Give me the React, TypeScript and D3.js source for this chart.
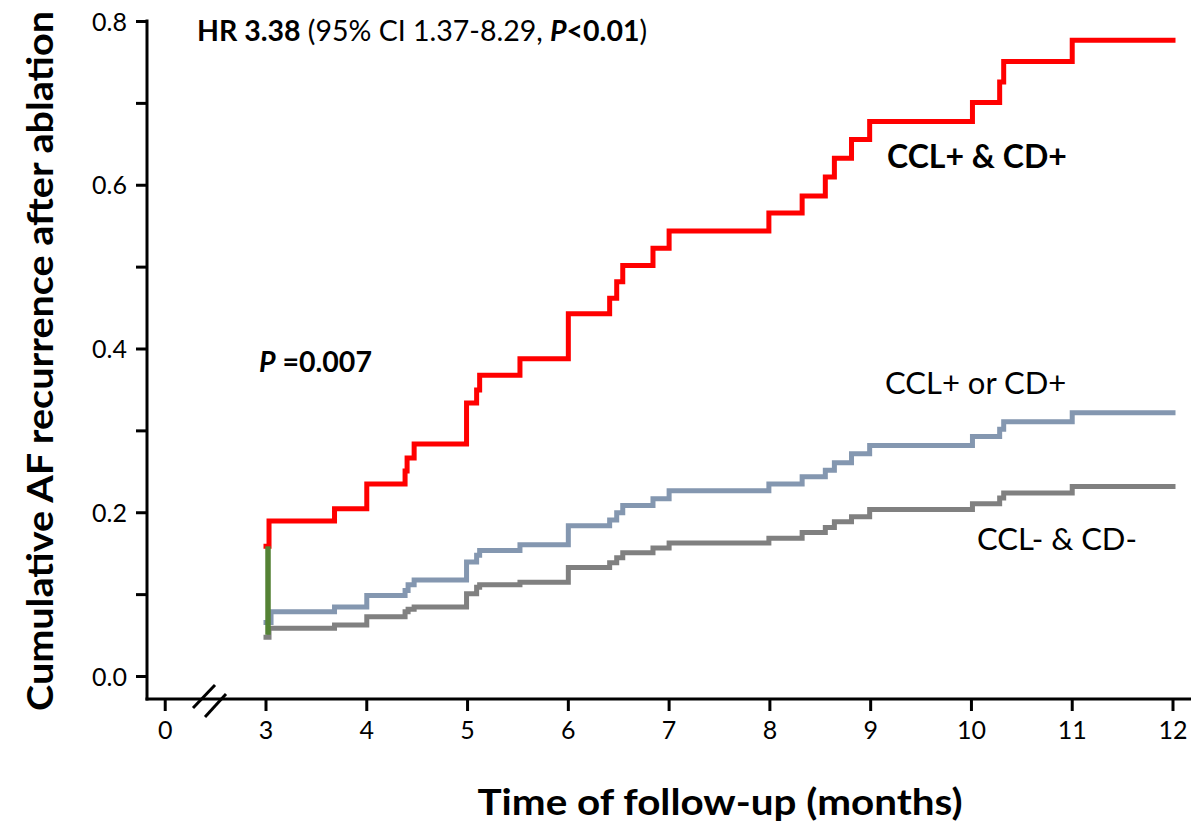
import React from "react";
import * as d3 from "d3";

const xTickValues = [0, 3, 4, 5, 6, 7, 8, 9, 10, 11, 12];
const yTickValues = [0, 0.1, 0.2, 0.3, 0.4, 0.5, 0.6, 0.7, 0.8];
const yLabelValues = [0, 0.2, 0.4, 0.6, 0.8];

const redTimes = [3.0, 3.03, 3.68, 4.0, 4.38, 4.40, 4.47, 4.99, 5.09, 5.12, 5.52, 6.0, 6.41, 6.48, 6.54, 6.84, 7.0, 7.99, 8.32, 8.55, 8.64, 8.81, 8.99, 10.01, 10.28, 10.32, 11.0, 12.0];
const redValues = [0.159, 0.190, 0.205, 0.235, 0.251, 0.267, 0.284, 0.334, 0.350, 0.368, 0.388, 0.443, 0.462, 0.482, 0.502, 0.523, 0.544, 0.566, 0.587, 0.610, 0.633, 0.656, 0.678, 0.701, 0.726, 0.751, 0.777, 0.777];

const blueTimes = [3.0, 3.05, 3.68, 4.0, 4.38, 4.41, 4.47, 4.99, 5.09, 5.12, 5.52, 6.0, 6.41, 6.48, 6.54, 6.84, 7.0, 7.99, 8.32, 8.55, 8.64, 8.81, 8.99, 10.01, 10.28, 10.32, 11.0, 12.0];
const blueValues = [0.066, 0.079, 0.085, 0.099, 0.105, 0.112, 0.118, 0.140, 0.148, 0.154, 0.161, 0.184, 0.191, 0.200, 0.209, 0.217, 0.227, 0.235, 0.244, 0.252, 0.261, 0.272, 0.282, 0.293, 0.302, 0.311, 0.322, 0.322];

const grayTimes = [3.0, 3.03, 3.68, 4.0, 4.38, 4.41, 4.47, 4.99, 5.09, 5.12, 5.52, 6.0, 6.41, 6.48, 6.54, 6.84, 7.0, 7.99, 8.32, 8.55, 8.64, 8.81, 8.99, 10.01, 10.28, 10.32, 11.0, 12.0];
const grayValues = [0.048, 0.059, 0.063, 0.073, 0.079, 0.082, 0.085, 0.101, 0.109, 0.112, 0.115, 0.133, 0.139, 0.145, 0.151, 0.157, 0.163, 0.169, 0.176, 0.182, 0.189, 0.195, 0.204, 0.211, 0.218, 0.224, 0.232, 0.232];

const greenTime = 3.02;
const greenRange = [0.051, 0.159];

const FONT = "Lato, 'Open Sans', sans-serif";

export default function App() {
  const x = d3.scaleLinear().domain([3, 12]).range([266, 1173]);
  const y = d3.scaleLinear().domain([0, 0.8]).range([676.5, 21.5]);
  const xPos = (t: number) => (t === 0 ? x(2) : x(t));

  const line = d3
    .line<[number, number]>()
    .x((d) => x(d[0]))
    .y((d) => y(d[1]))
    .curve(d3.curveStepAfter);

  const series = [
    { times: grayTimes, values: grayValues, color: "#808080" },
    { times: blueTimes, values: blueValues, color: "#8497B0" },
    { times: redTimes, values: redValues, color: "#FF0000" },
  ];

  const axisY = 147;
  const axisX = 699;

  return (
    <svg
      width={1191}
      height={828}
      style={{ position: "absolute", left: 0, top: 0, background: "#fff" }}
      fontFamily={FONT}
    >
      <rect x={0} y={0} width={1191} height={828} fill="#fff" />
      {series.map((s, i) => (
        <path
          key={i}
          d={line(s.times.map((t, j) => [t, s.values[j]] as [number, number])) || ""}
          fill="none"
          stroke={s.color}
          strokeWidth={5}
          strokeLinejoin="miter"
          strokeLinecap="square"
        />
      ))}
      <line
        x1={x(greenTime)}
        x2={x(greenTime)}
        y1={y(greenRange[0])}
        y2={y(greenRange[1])}
        stroke="#548235"
        strokeWidth={5.5}
      />

      {/* y axis */}
      <line x1={axisY} x2={axisY} y1={y(0.8) - 2} y2={axisX + 1.5} stroke="#000" strokeWidth={3} />
      {yTickValues.map((v) => (
        <line key={v} x1={axisY - 11} x2={axisY} y1={y(v)} y2={y(v)} stroke="#000" strokeWidth={3} />
      ))}
      {yLabelValues.map((v) => (
        <text key={v} x={127} y={y(v)} dy="0.36em" textAnchor="end" fontSize={25} fill="#000">
          {v.toFixed(1)}
        </text>
      ))}

      {/* x axis */}
      <line x1={axisY - 1.5} x2={1191} y1={axisX} y2={axisX} stroke="#000" strokeWidth={3} />
      {xTickValues.map((t) => (
        <line key={t} x1={xPos(t)} x2={xPos(t)} y1={axisX} y2={axisX + 12} stroke="#000" strokeWidth={3} />
      ))}
      {xTickValues.map((t) => (
        <text key={t} x={xPos(t)} y={739} textAnchor="middle" fontSize={25} fill="#000">
          {t}
        </text>
      ))}
      <line x1={193} y1={708} x2={215} y2={685} stroke="#000" strokeWidth={3} />
      <line x1={205} y1={717} x2={226} y2={694} stroke="#000" strokeWidth={3} />

      {/* axis titles */}
      <text
        transform={`translate(53, 361) rotate(-90)`}
        textAnchor="middle"
        fontSize={37}
        fontWeight="bold"
        fill="#000"
        textLength={700}
        lengthAdjust="spacingAndGlyphs"
      >
        Cumulative AF recurrence after ablation
      </text>
      <text
        x={720}
        y={815}
        textAnchor="middle"
        fontSize={36}
        fontWeight="bold"
        fill="#000"
        textLength={485}
        lengthAdjust="spacingAndGlyphs"
      >
        Time of follow-up (months)
      </text>

      {/* annotations */}
      <text x={197} y={41} fontSize={28.5} fill="#000">
        <tspan fontWeight="bold">HR 3.38</tspan>
        <tspan> (95% CI 1.37-8.29, </tspan>
        <tspan fontWeight="bold" fontStyle="italic">P</tspan>
        <tspan fontWeight="bold">{"<0.01"}</tspan>
        <tspan>)</tspan>
      </text>
      <text x={259} y={372} fontSize={28.5} fill="#000" fontWeight="bold">
        <tspan fontStyle="italic">P</tspan>
        <tspan> =0.007</tspan>
      </text>
      <text x={887} y={168} fontSize={32} fontWeight="bold" fill="#000">
        CCL+ &amp; CD+
      </text>
      <text x={885} y={394} fontSize={31} fill="#000">
        CCL+ or CD+
      </text>
      <text x={977} y={550} fontSize={31} fill="#000">
        CCL- &amp; CD-
      </text>
    </svg>
  );
}
